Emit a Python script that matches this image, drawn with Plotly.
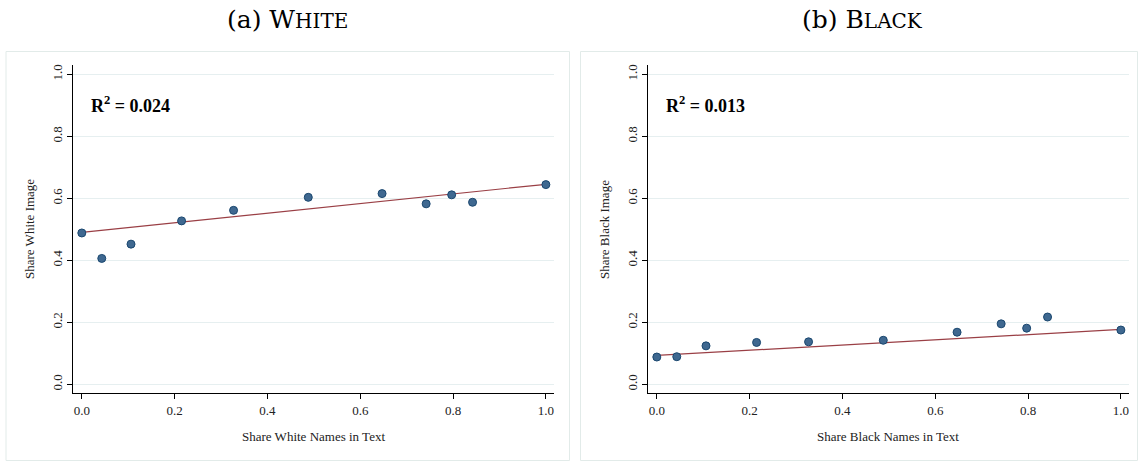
import plotly.graph_objects as go

# ---- data ----
share_names = [0.0, 0.043, 0.106, 0.215, 0.327, 0.488, 0.647, 0.742, 0.797, 0.842, 1.0]
white_image = [0.488, 0.406, 0.452, 0.527, 0.561, 0.603, 0.615, 0.582, 0.611, 0.587, 0.644]
black_image = [0.088, 0.089, 0.124, 0.135, 0.137, 0.142, 0.168, 0.195, 0.181, 0.217, 0.175]
fit_x = [0.0, 1.0]
white_fit = [0.490, 0.645]
black_fit = [0.093, 0.177]
r2_white = "0.024"
r2_black = "0.013"
tick_vals = [0.0, 0.2, 0.4, 0.6, 0.8, 1.0]
tick_text = ["0.0", "0.2", "0.4", "0.6", "0.8", "1.0"]

W, H = 1138, 461
FONT = "Liberation Serif"
MARKER_FILL = "#3f6890"
MARKER_EDGE = "#1a476f"
LINE_COL = "#9a3f45"
GRID_COL = "#e6eff0"
BOX_COL = "#e2ebe9"

fig = go.Figure()

for xa, ya, ys, fy in [("x", "y", white_image, white_fit), ("x2", "y2", black_image, black_fit)]:
    fig.add_trace(go.Scatter(x=fit_x, y=fy, mode="lines", xaxis=xa, yaxis=ya,
                             line=dict(color=LINE_COL, width=1.2), showlegend=False,
                             hoverinfo="skip"))
    fig.add_trace(go.Scatter(x=share_names, y=ys, mode="markers", xaxis=xa, yaxis=ya,
                             marker=dict(size=8, color=MARKER_FILL,
                                         line=dict(color=MARKER_EDGE, width=1)),
                             showlegend=False))

def px(v):
    return v / W

def py(v):
    return 1 - v / H

ydom = [py(393.3), py(64.6)]
left_dom = [px(73), px(554)]
right_dom = [px(648), px(1129)]

axis_common = dict(showline=True, linecolor="black", linewidth=1.3, ticks="outside",
                   ticklen=5, tickcolor="black", tickwidth=1, zeroline=False,
                   tickfont=dict(family=FONT, size=13, color="#222"),
                   tickvals=tick_vals, ticktext=tick_text, mirror=False)

fig.update_layout(
    width=W, height=H, margin=dict(l=0, r=0, t=0, b=0),
    paper_bgcolor="white", plot_bgcolor="white",
    xaxis=dict(domain=left_dom, anchor="y", range=[-0.019, 1.0175], showgrid=False, **axis_common),
    yaxis=dict(domain=ydom, anchor="x", range=[-0.029, 1.031], showgrid=True,
               gridcolor=GRID_COL, gridwidth=1, tickangle=-90, **axis_common),
    xaxis2=dict(domain=right_dom, anchor="y2", range=[-0.019, 1.0175], showgrid=False, **axis_common),
    yaxis2=dict(domain=ydom, anchor="x2", range=[-0.029, 1.031], showgrid=True,
                gridcolor=GRID_COL, gridwidth=1, tickangle=-90, **axis_common),
)

# panel boxes
for x0, x1 in [(6, 569.5), (580.5, 1137.5)]:
    fig.add_shape(type="rect", xref="paper", yref="paper", x0=px(x0), x1=px(x1),
                  y0=py(460.5), y1=py(51.5), line=dict(color=BOX_COL, width=1),
                  fillcolor="rgba(0,0,0,0)", layer="below")

ann = []
# titles
for cx, main, rest in [(287.5, "(a) W", "HITE"), (862.5, "(b) B", "LACK")]:
    ann.append(dict(xref="paper", yref="paper", x=px(cx), y=py(19), xanchor="center",
                    yanchor="middle", showarrow=False,
                    text=main + "<span style='font-size:20px'>" + rest + "</span>",
                    font=dict(family="DejaVu Serif", size=25, color="black")))
# axis titles
for off, name in [(0, "White"), (575, "Black")]:
    ann.append(dict(xref="paper", yref="paper", x=px(29 + off), y=py(229), textangle=-90,
                    xanchor="center", yanchor="middle", showarrow=False,
                    text=f"Share {name} Image",
                    font=dict(family=FONT, size=13, color="#222")))
    ann.append(dict(xref="paper", yref="paper", x=px(313.5 + off), y=py(436), xanchor="center",
                    yanchor="middle", showarrow=False,
                    text=f"Share {name} Names in Text",
                    font=dict(family=FONT, size=13, color="#222")))
# R^2
for off, r2 in [(0, r2_white), (575, r2_black)]:
    ann.append(dict(xref="paper", yref="paper", x=px(89 + off), y=py(105), xanchor="left",
                    yanchor="middle", showarrow=False,
                    text=f"<b>R<sup>2</sup> = {r2}</b>",
                    font=dict(family=FONT, size=18, color="black")))

fig.update_layout(annotations=ann)
fig.write_html("out.html", config={"displayModeBar": False},
               post_script="document.body.style.margin='0';document.body.style.overflow='hidden';")
